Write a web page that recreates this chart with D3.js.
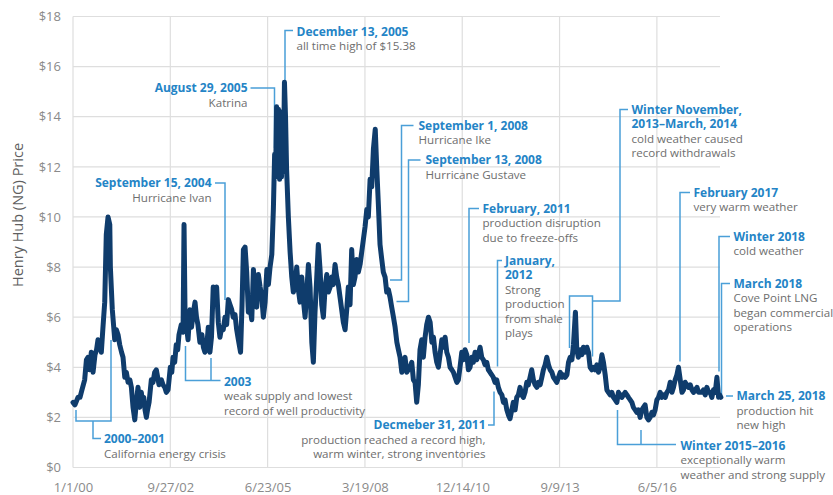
<!DOCTYPE html>
<html>
<head>
<meta charset="utf-8">
<script src="https://cdn.jsdelivr.net/npm/d3@7"></script>
<style>
  body { margin: 0; background: #fff; }
  svg text { font-family: "Open Sans", sans-serif; }
</style>
</head>
<body>
<div id="chart"></div>
<script>
// Henry Hub spot price
const henryHub = [
  ["2000-01-01",2.6],["2000-01-21",2.5],["2000-02-21",2.8],["2000-03-13",2.8],["2000-04-02",3.1],
  ["2000-04-30",3.5],["2000-05-18",4.3],["2000-06-03",4.4],["2000-06-19",3.9],["2000-07-07",4.6],
  ["2000-07-25",3.8],["2000-08-14",4.5],["2000-08-30",4.7],["2000-09-14",5.1],["2000-09-29",5.0],
  ["2000-10-18",4.6],["2000-11-04",5.6],["2000-11-22",6.6],["2000-12-08",9.3],["2000-12-26",10.0],
  ["2001-01-13",9.7],["2001-01-19",8.0],["2001-02-08",6.3],["2001-03-05",5.1],["2001-03-21",5.5],
  ["2001-04-08",5.3],["2001-04-25",4.9],["2001-05-14",4.6],["2001-05-29",4.4],["2001-06-16",3.6],
  ["2001-07-02",3.8],["2001-07-20",3.4],["2001-08-07",3.5],["2001-08-23",3.2],["2001-09-09",2.4],
  ["2001-09-27",1.9],["2001-10-13",2.6],["2001-10-30",3.2],["2001-11-17",2.4],["2001-12-03",3.0],
  ["2001-12-15",2.6],["2001-12-28",2.8],["2002-01-10",2.3],["2002-01-24",2.0],["2002-02-05",2.3],
  ["2002-02-21",2.6],["2002-03-16",3.5],["2002-04-02",3.4],["2002-04-19",3.8],["2002-05-06",3.9],
  ["2002-05-20",3.6],["2002-06-03",3.3],["2002-06-27",3.5],["2002-07-14",3.3],["2002-08-01",3.2],
  ["2002-08-17",3.0],["2002-09-04",3.1],["2002-09-27",4.0],["2002-10-12",3.8],["2002-10-25",4.4],
  ["2002-11-11",4.2],["2002-11-27",4.9],["2002-12-12",4.7],["2002-12-25",5.3],["2003-01-18",5.7],
  ["2003-02-05",5.4],["2003-02-15",9.7],["2003-02-25",6.3],["2003-03-10",5.7],["2003-03-28",5.1],
  ["2003-04-17",6.3],["2003-05-03",5.6],["2003-05-18",6.1],["2003-06-08",6.6],["2003-06-23",6.0],
  ["2003-07-08",5.7],["2003-07-28",5.0],["2003-08-18",5.3],["2003-09-02",4.8],["2003-09-18",4.6],
  ["2003-10-08",4.9],["2003-10-22",5.6],["2003-11-08",4.6],["2003-11-24",5.2],["2003-12-12",7.2],
  ["2003-12-30",6.6],["2004-01-16",7.2],["2004-02-02",5.8],["2004-02-19",5.2],["2004-03-08",5.6],
  ["2004-03-24",5.5],["2004-04-11",6.0],["2004-04-28",5.7],["2004-05-15",6.7],["2004-06-01",6.5],
  ["2004-06-19",6.3],["2004-07-05",6.0],["2004-07-23",6.1],["2004-08-09",5.5],["2004-08-26",5.1],
  ["2004-09-18",4.6],["2004-10-03",6.5],["2004-10-17",8.7],["2004-11-03",8.8],["2004-11-20",7.8],
  ["2004-12-07",6.2],["2004-12-24",6.4],["2005-01-11",5.9],["2005-01-28",7.9],["2005-02-14",6.8],
  ["2005-03-03",6.4],["2005-03-20",7.7],["2005-04-07",7.2],["2005-04-24",6.8],["2005-05-10",6.0],
  ["2005-05-28",6.6],["2005-06-15",7.9],["2005-07-01",7.3],["2005-07-18",8.0],["2005-08-05",8.5],
  ["2005-08-21",10.3],["2005-09-03",12.5],["2005-09-13",11.6],["2005-09-23",14.4],["2005-10-03",13.2],
  ["2005-10-13",14.3],["2005-10-24",11.5],["2005-11-03",14.2],["2005-11-13",11.6],["2005-11-23",13.8],
  ["2005-12-01",11.8],["2005-12-13",15.38],["2005-12-24",14.0],["2006-01-04",11.9],["2006-01-22",10.0],
  ["2006-02-09",8.6],["2006-02-26",7.6],["2006-03-14",7.0],["2006-04-01",7.2],["2006-04-18",8.0],
  ["2006-05-05",7.1],["2006-05-22",6.6],["2006-06-09",7.6],["2006-06-25",6.7],["2006-07-13",6.0],
  ["2006-07-30",7.0],["2006-08-16",8.1],["2006-09-02",7.2],["2006-09-20",5.0],["2006-10-06",4.2],
  ["2006-10-23",6.2],["2006-11-10",7.6],["2006-11-26",8.9],["2006-12-14",7.9],["2006-12-31",6.5],
  ["2007-01-17",6.0],["2007-02-04",7.2],["2007-02-21",7.7],["2007-03-09",7.0],["2007-03-27",7.2],
  ["2007-04-13",7.6],["2007-04-29",7.3],["2007-05-17",8.1],["2007-06-03",7.6],["2007-06-20",7.3],
  ["2007-07-07",6.8],["2007-07-24",6.3],["2007-08-10",5.8],["2007-08-28",5.5],["2007-09-14",6.3],
  ["2007-09-30",7.2],["2007-10-18",6.5],["2007-11-04",8.7],["2007-11-21",7.3],["2007-12-08",7.6],
  ["2007-12-26",8.3],["2008-01-11",7.8],["2008-01-29",8.1],["2008-02-15",8.6],["2008-03-03",9.1],
  ["2008-03-20",9.6],["2008-04-07",10.3],["2008-04-23",10.0],["2008-05-11",11.5],["2008-05-28",11.2],
  ["2008-06-14",12.7],["2008-07-03",13.5],["2008-07-18",12.0],["2008-08-04",10.5],["2008-08-21",8.9],
  ["2008-09-08",8.3],["2008-09-24",7.8],["2008-10-12",7.6],["2008-10-29",7.0],["2008-11-15",7.1],
  ["2008-12-02",6.8],["2008-12-19",6.4],["2009-01-06",6.0],["2009-01-23",5.6],["2009-02-10",5.0],
  ["2009-02-26",4.7],["2009-03-15",4.4],["2009-04-02",3.8],["2009-04-18",4.2],["2009-05-05",4.4],
  ["2009-05-23",3.8],["2009-06-08",3.9],["2009-06-26",4.0],["2009-07-13",4.2],["2009-07-30",3.5],
  ["2009-08-16",3.4],["2009-09-02",2.6],["2009-09-19",3.3],["2009-10-06",4.7],["2009-10-24",5.1],
  ["2009-11-09",4.4],["2009-11-27",5.2],["2009-12-14",5.7],["2010-01-01",6.0],["2010-01-18",5.8],
  ["2010-02-05",5.0],["2010-02-21",5.2],["2010-03-10",4.6],["2010-03-27",4.2],["2010-04-13",4.0],
  ["2010-04-30",4.5],["2010-05-18",5.1],["2010-06-03",4.8],["2010-06-21",5.2],["2010-07-08",4.6],
  ["2010-07-25",4.4],["2010-08-11",4.0],["2010-08-29",3.9],["2010-09-14",3.8],["2010-10-02",3.6],
  ["2010-10-19",3.4],["2010-11-04",3.5],["2010-11-21",4.0],["2010-12-09",4.6],["2010-12-25",4.3],
  ["2011-01-12",4.7],["2011-01-30",4.5],["2011-02-15",3.9],["2011-03-04",4.0],["2011-03-22",4.4],
  ["2011-04-07",4.2],["2011-04-25",4.6],["2011-05-12",4.3],["2011-05-28",4.5],["2011-06-15",4.8],
  ["2011-07-02",4.4],["2011-07-19",4.3],["2011-08-05",4.1],["2011-08-23",4.2],["2011-09-08",3.9],
  ["2011-09-26",3.8],["2011-10-13",3.7],["2011-10-29",3.6],["2011-11-16",3.4],["2011-12-03",3.5],
  ["2011-12-20",3.2],["2012-01-07",3.0],["2012-01-25",2.9],["2012-02-10",2.6],["2012-02-27",2.7],
  ["2012-03-16",2.3],["2012-04-01",2.1],["2012-04-18",1.95],["2012-05-06",2.3],["2012-05-22",2.6],
  ["2012-06-09",2.3],["2012-06-26",2.8],["2012-07-13",2.9],["2012-07-30",3.2],["2012-08-16",2.9],
  ["2012-09-02",2.8],["2012-09-19",3.0],["2012-10-07",3.4],["2012-10-23",3.3],["2012-11-10",3.6],
  ["2012-11-27",3.9],["2012-12-14",3.5],["2013-01-01",3.3],["2013-01-19",3.2],["2013-02-04",3.4],
  ["2013-02-22",3.3],["2013-03-11",3.6],["2013-03-27",3.9],["2013-04-14",4.1],["2013-05-01",4.4],
  ["2013-05-18",4.1],["2013-06-04",3.9],["2013-06-22",3.8],["2013-07-08",3.6],["2013-07-26",3.5],
  ["2013-08-12",3.4],["2013-08-29",3.6],["2013-09-16",3.8],["2013-10-03",3.6],["2013-10-19",3.7],
  ["2013-11-06",3.6],["2013-11-24",3.7],["2013-12-10",4.2],["2013-12-27",4.4],["2014-01-14",4.3],
  ["2014-01-30",4.9],["2014-02-19",6.2],["2014-03-05",4.7],["2014-03-21",4.4],["2014-04-08",4.7],
  ["2014-04-26",4.5],["2014-05-12",4.8],["2014-05-30",4.6],["2014-06-17",4.8],["2014-07-03",4.6],
  ["2014-07-20",4.0],["2014-08-07",3.9],["2014-08-23",4.0],["2014-09-10",3.9],["2014-09-27",4.1],
  ["2014-10-14",3.8],["2014-10-31",4.0],["2014-11-18",4.5],["2014-12-04",4.2],["2014-12-22",3.7],
  ["2015-01-08",3.1],["2015-01-24",3.0],["2015-02-11",2.9],["2015-02-28",3.0],["2015-03-17",2.8],
  ["2015-04-04",2.7],["2015-04-21",2.6],["2015-05-07",3.0],["2015-05-25",2.9],["2015-06-11",2.8],
  ["2015-06-27",2.9],["2015-07-15",3.0],["2015-08-02",2.9],["2015-08-18",2.8],["2015-09-05",2.7],
  ["2015-09-22",2.6],["2015-10-08",2.4],["2015-10-26",2.3],["2015-11-12",2.2],["2015-11-29",2.3],
  ["2015-12-16",2.0],["2016-01-03",2.3],["2016-01-19",2.4],["2016-02-05",2.5],["2016-02-23",2.0],
  ["2016-03-11",1.9],["2016-03-28",2.0],["2016-04-15",2.2],["2016-05-01",2.1],["2016-05-18",2.3],
  ["2016-06-05",2.7],["2016-06-22",2.8],["2016-07-09",3.0],["2016-07-26",2.8],["2016-08-12",2.9],
  ["2016-08-30",2.8],["2016-09-16",3.0],["2016-10-03",3.1],["2016-10-20",3.4],["2016-11-07",3.0],
  ["2016-11-23",3.2],["2016-12-10",3.5],["2016-12-28",3.7],["2017-01-13",4.0],["2017-01-31",3.5],
  ["2017-02-18",3.0],["2017-03-06",3.1],["2017-03-23",3.4],["2017-04-10",3.3],["2017-04-26",3.2],
  ["2017-05-14",3.3],["2017-05-31",3.1],["2017-06-17",3.0],["2017-07-04",3.1],["2017-07-22",3.2],
  ["2017-08-07",3.0],["2017-08-25",3.0],["2017-09-11",3.0],["2017-09-27",3.1],["2017-10-15",2.9],
  ["2017-11-01",3.2],["2017-11-18",3.0],["2017-12-05",3.0],["2017-12-22",2.8],["2018-01-08",3.1],
  ["2018-01-26",3.0],["2018-02-12",3.6],["2018-03-01",2.8],["2018-03-12",2.9],["2018-03-25",2.8]
];

const yTicks = [0, 2, 4, 6, 8, 10, 12, 14, 16, 18];
const xTickDates = ["2000-01-01","2002-09-27","2005-06-23","2008-03-19","2010-12-14","2013-09-09","2016-06-05"];
const xTickLabels = ["1/1/00","9/27/02","6/23/05","3/19/08","12/14/10","9/9/13","6/5/16"];

// callouts: title lines (blue, bold), note lines (gray)
const callouts = [
  { title: ["December 13, 2005"], note: ["all time high of $15.38"] },
  { title: ["August 29, 2005"], note: ["Katrina"] },
  { title: ["September 15, 2004"], note: ["Hurricane Ivan"] },
  { title: ["2000\u20132001"], note: ["California energy crisis"] },
  { title: ["2003"], note: ["weak supply and lowest", "record of well productivity"] },
  { title: ["September 1, 2008"], note: ["Hurricane Ike"] },
  { title: ["September 13, 2008"], note: ["Hurricane Gustave"] },
  { title: ["February, 2011"], note: ["production disruption", "due to freeze-offs"] },
  { title: ["January,", "2012"], note: ["Strong", "production", "from shale", "plays"] },
  { title: ["Decmeber 31, 2011"], note: ["production reached a record high,", "warm winter, strong inventories"] },
  { title: ["Winter November,", "2013\u2013March, 2014"], note: ["cold weather caused", "record withdrawals"] },
  { title: ["February 2017"], note: ["very warm weather"] },
  { title: ["Winter 2018"], note: ["cold weather"] },
  { title: ["March 2018"], note: ["Cove Point LNG", "began commercial", "operations"] },
  { title: ["March 25, 2018"], note: ["production hit", "new high"] },
  { title: ["Winter 2015\u20132016"], note: ["exceptionally warm", "weather and strong supply"] }
];

// where each callout sits (px): text anchor, first line y, leader path
const calloutLayout = [
  { x: 296.5, y: 31.5, anchor: "start", path: "M285,82V30.5H293" },
  { x: 247.5, y: 88, anchor: "end", path: "M250.5,88H274.5V148" },
  { x: 211.5, y: 183, anchor: "end", path: "M215,183H225V300" },
  { x: 104, y: 439, anchor: "start", path: "M76,410V421H111V340M93,421V438.5H101" },
  { x: 224, y: 381.5, anchor: "start", path: "M185.5,346V380.5H211V358M211,380.5H220.5" },
  { x: 418.5, y: 125.5, anchor: "start", path: "M390,280H401.5V125.5H413.5" },
  { x: 425.5, y: 160, anchor: "start", path: "M396.5,301.5H408.5V160H420.5" },
  { x: 482.5, y: 208.5, anchor: "start", path: "M469,343V208.5H479" },
  { x: 505, y: 260.5, anchor: "start", path: "M497.5,366.5V260.5H502" },
  { x: 485.5, y: 425, anchor: "end", path: "M488,425H494V391.5" },
  { x: 631.5, y: 109.5, anchor: "start", path: "M628,109.5H620V301H592.5M569.5,348V296H592.5V356.5" },
  { x: 693.5, y: 192.5, anchor: "start", path: "M680,361.5V192.5H690" },
  { x: 733.5, y: 236.5, anchor: "start", path: "M719,371.5V236.5H730" },
  { x: 733.5, y: 283.5, anchor: "start", path: "M721.5,396V283.5H730" },
  { x: 736.5, y: 396, anchor: "start", path: "M726,396H733" },
  { x: 680.5, y: 445.5, anchor: "start", path: "M617.5,410V444.5H676M641,430V444.5" }
];

var width = 833, height = 495;
var plot = { left: 73, right: 721, top: 16.5, bottom: 467.5 };

var svg = d3.select("#chart")
    .append("svg")
    .attr("width", width)
    .attr("height", height);

var parse = d3.utcParse("%Y-%m-%d");
var series = henryHub.map(function (d) { return { date: parse(d[0]), price: d[1] }; });

var x = d3.scaleUtc()
    .domain([parse("2000-01-01"), parse("2018-03-26")])
    .range([plot.left, plot.right]);

var y = d3.scaleLinear()
    .domain([0, 18])
    .range([plot.bottom, plot.top]);

// grid
svg.append("g")
    .selectAll("line")
    .data(yTicks)
    .enter().append("line")
    .attr("x1", plot.left)
    .attr("x2", plot.right - 1)
    .attr("y1", function (d) { return y(d); })
    .attr("y2", function (d) { return y(d); })
    .attr("stroke", "#dedede")
    .attr("stroke-width", 1.2);

svg.append("g")
    .selectAll("line")
    .data(xTickDates)
    .enter().append("line")
    .attr("x1", function (d) { return x(parse(d)); })
    .attr("x2", function (d) { return x(parse(d)); })
    .attr("y1", plot.top)
    .attr("y2", plot.bottom)
    .attr("stroke", "#dedede")
    .attr("stroke-width", 1.2);

// axes labels
var yAxis = svg.append("g")
    .attr("transform", "translate(" + (plot.left - 9) + ",0)")
    .call(d3.axisLeft(y).tickValues(yTicks).tickSize(0).tickFormat(function (d) { return "$" + d; }));
yAxis.select(".domain").remove();
yAxis.selectAll("text")
    .attr("fill", "#8a8a8a")
    .style("font-size", "13px")
    .style("font-family", "'Open Sans', sans-serif");

var xAxis = svg.append("g")
    .attr("transform", "translate(0," + (plot.bottom + 12) + ")")
    .call(d3.axisBottom(x)
        .tickValues(xTickDates.map(parse))
        .tickSize(0)
        .tickFormat(function (d, i) { return xTickLabels[i]; }));
xAxis.select(".domain").remove();
xAxis.selectAll("text")
    .attr("fill", "#8a8a8a")
    .style("font-size", "13px")
    .style("font-family", "'Open Sans', sans-serif");

svg.append("text")
    .attr("transform", "translate(23," + ((plot.top + plot.bottom) / 2 - 27) + ") rotate(-90)")
    .attr("text-anchor", "middle")
    .attr("fill", "#5f5f5f")
    .style("font-size", "14.5px")
    .text("Henry Hub (NG) Price");

// leader lines
svg.append("g")
    .selectAll("path")
    .data(calloutLayout)
    .enter().append("path")
    .attr("d", function (d) { return d.path; })
    .attr("fill", "none")
    .attr("stroke", "#4a9fd8")
    .attr("stroke-width", 1.5);

// price line
var line = d3.line()
    .x(function (d) { return x(d.date); })
    .y(function (d) { return y(d.price); });

svg.append("path")
    .datum(series)
    .attr("d", line)
    .attr("fill", "none")
    .attr("stroke", "#0f3c6c")
    .attr("stroke-width", 5)
    .attr("stroke-linejoin", "round")
    .attr("stroke-linecap", "round");

// callout text, one text element per line
var lineGap = 14.5;
var labels = svg.append("g");
callouts.forEach(function (c, i) {
    var pos = calloutLayout[i];
    var rows = c.title.map(function (s) { return { s: s, bold: true }; })
        .concat(c.note.map(function (s) { return { s: s, bold: false }; }));
    rows.forEach(function (r, j) {
        labels.append("text")
            .attr("x", pos.x)
            .attr("y", pos.y + j * lineGap)
            .attr("dy", "0.36em")
            .attr("text-anchor", pos.anchor)
            .attr("fill", r.bold ? "#2484c6" : "#6e6e6e")
            .style("font-weight", r.bold ? 700 : 400)
            .style("font-size", r.bold ? "12px" : "11.6px")
            .text(r.s);
    });
});
</script>
</body>
</html>
